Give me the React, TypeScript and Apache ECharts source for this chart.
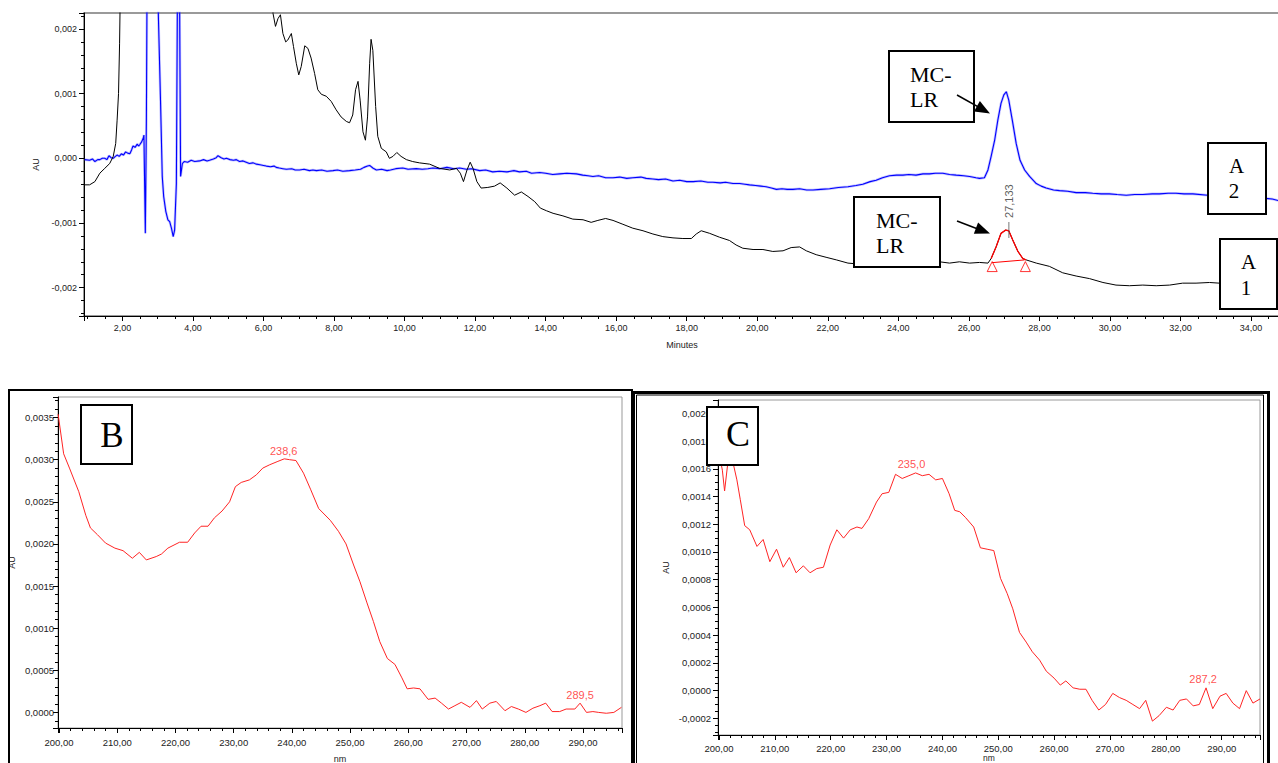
import React, { useEffect, useRef } from "react";
import * as echarts from "echarts";

// ---------- Chromatogram (A): retention time (min) vs AU ----------
const chromA2Blue: [number, number][] = [
  [0.93,-0.00002],[1.07,-0.00003],[1.15,-0.00001],[1.22,-0.00005],[1.30,-0.00002],[1.36,-0.00002],[1.43,0.0],[1.50,0.0],[1.56,-0.00002],[1.62,0.00004],[1.68,0.00001],[1.74,0.0],[1.80,0.00003],[1.85,0.00005],[1.91,0.00003],[1.97,0.00007],[2.03,0.00005],[2.09,0.0001],[2.15,0.00008],[2.21,0.00007],[2.26,0.00013],[2.30,0.00019],[2.36,0.00017],[2.42,0.00022],[2.46,0.00019],[2.49,0.00021],[2.54,0.00025],[2.59,0.00031],[2.61,0.00036],[2.65,-0.00116],[2.68,0.0006],[2.71,0.004],[2.98,0.004],[3.02,0.0022],[3.08,0.0009],[3.13,-0.00028],[3.17,-0.00059],[3.23,-0.00082],[3.29,-0.00095],[3.34,-0.00098],[3.39,-0.00108],[3.44,-0.00121],[3.48,-0.00111],[3.53,-0.00039],[3.57,0.0035],[3.61,0.0035],[3.65,-0.00028],[3.70,-0.00008],[3.75,-0.00005],[3.85,-0.00006],[3.95,-0.00003],[4.05,-0.00005],[4.19,-0.00004],[4.3,-0.00002],[4.4,-0.00004],[4.47,-0.00003],[4.58,-0.00001],[4.66,0.00001],[4.71,0.00004],[4.8,0.00001],[4.88,-0.00001],[4.95,0.0],[5.05,-0.00002],[5.15,-0.00003],[5.23,-0.00002],[5.32,-0.00005],[5.42,-0.00004],[5.51,-0.00006],[5.6,-0.00008],[5.7,-0.00007],[5.8,-0.00009],[5.9,-0.0001],[6.0,-0.00011],[6.08,-0.00012],[6.2,-0.00013],[6.3,-0.00012],[6.36,-0.00014],[6.45,-0.00015],[6.55,-0.00016],[6.65,-0.00017],[6.8,-0.00016],[6.9,-0.00018],[7.02,-0.00018],[7.15,-0.00017],[7.3,-0.00019],[7.4,-0.00018],[7.5,-0.00019],[7.65,-0.00018],[7.8,-0.0002],[7.97,-0.00019],[8.1,-0.00018],[8.25,-0.0002],[8.44,-0.00019],[8.6,-0.00018],[8.75,-0.00017],[8.85,-0.00014],[8.95,-0.00012],[9.01,-0.00011],[9.1,-0.00015],[9.2,-0.00018],[9.35,-0.00017],[9.5,-0.00019],[9.6,-0.00018],[9.75,-0.00016],[9.95,-0.00015],[10.1,-0.00017],[10.33,-0.00016],[10.5,-0.00017],[10.66,-0.00016],[10.8,-0.00015],[11.0,-0.00016],[11.2,-0.00014],[11.4,-0.00016],[11.56,-0.00015],[11.75,-0.00017],[11.9,-0.00016],[12.13,-0.00019],[12.3,-0.00018],[12.5,-0.00021],[12.69,-0.0002],[12.9,-0.00021],[13.1,-0.00019],[13.26,-0.00021],[13.45,-0.0002],[13.6,-0.00023],[13.83,-0.00022],[14.0,-0.00023],[14.2,-0.00025],[14.4,-0.00024],[14.6,-0.00023],[14.87,-0.00024],[15.05,-0.00026],[15.2,-0.00027],[15.34,-0.00028],[15.5,-0.00027],[15.7,-0.0003],[15.91,-0.0003],[16.1,-0.00029],[16.3,-0.00031],[16.47,-0.0003],[16.7,-0.00029],[16.85,-0.00031],[17.04,-0.00032],[17.2,-0.00033],[17.4,-0.00032],[17.61,-0.00035],[17.8,-0.00034],[18.0,-0.00036],[18.18,-0.00036],[18.4,-0.00035],[18.6,-0.00037],[18.74,-0.00037],[18.95,-0.00038],[19.1,-0.00037],[19.31,-0.00039],[19.5,-0.00039],[19.65,-0.0004],[19.78,-0.00041],[19.95,-0.00042],[20.1,-0.00043],[20.25,-0.00044],[20.4,-0.00046],[20.54,-0.00048],[20.7,-0.00047],[20.85,-0.00048],[21.01,-0.00048],[21.2,-0.00047],[21.4,-0.00049],[21.58,-0.00049],[21.8,-0.00048],[22.05,-0.00047],[22.3,-0.00045],[22.57,-0.00044],[22.8,-0.00042],[22.99,-0.0004],[23.2,-0.00036],[23.37,-0.00034],[23.55,-0.0003],[23.75,-0.00027],[23.95,-0.00026],[24.13,-0.00026],[24.3,-0.00025],[24.5,-0.00026],[24.7,-0.00024],[24.88,-0.00024],[25.05,-0.00023],[25.26,-0.00023],[25.45,-0.00025],[25.64,-0.00026],[25.85,-0.00027],[26.02,-0.00028],[26.2,-0.0003],[26.3,-0.00031],[26.44,-0.0003],[26.54,-0.00018],[26.63,0.00003],[26.73,0.00028],[26.82,0.00059],[26.91,0.00085],[26.99,0.00098],[27.06,0.00103],[27.13,0.0009],[27.23,0.00059],[27.34,0.00023],[27.45,-0.00003],[27.58,-0.00018],[27.72,-0.00028],[27.91,-0.00039],[28.05,-0.00043],[28.19,-0.00046],[28.4,-0.00049],[28.57,-0.0005],[28.8,-0.00051],[29.04,-0.00053],[29.3,-0.00053],[29.51,-0.00054],[29.75,-0.00055],[29.98,-0.00055],[30.2,-0.00056],[30.46,-0.00057],[30.7,-0.00056],[30.93,-0.00056],[31.2,-0.00055],[31.4,-0.00055],[31.65,-0.00054],[31.87,-0.00054],[32.1,-0.00055],[32.35,-0.00055],[32.77,-0.00057],[33.57,-0.0006],[34.42,-0.00062],[34.6,-0.00063],[34.82,-0.00066]
];

const chromA1Black: [number, number][] = [
  [0.93,-0.00041],[1.07,-0.00041],[1.22,-0.00036],[1.36,-0.00023],[1.50,-0.000155],[1.64,-0.00008],[1.74,0.00003],[1.81,0.00023],[1.85,0.00059],[1.89,0.001],[1.92,0.00178],[1.95,0.003],[2.0,0.006],[6.1,0.006],[6.27,0.00224],[6.34,0.00204],[6.41,0.00216],[6.48,0.00222],[6.55,0.00193],[6.63,0.0018],[6.69,0.00183],[6.79,0.00193],[6.85,0.00173],[6.93,0.00147],[7.0,0.00129],[7.07,0.00142],[7.17,0.00174],[7.26,0.0017],[7.35,0.00155],[7.45,0.00131],[7.54,0.00106],[7.64,0.00099],[7.78,0.00096],[7.92,0.00088],[8.06,0.00075],[8.2,0.00064],[8.35,0.00057],[8.44,0.00055],[8.53,0.00067],[8.61,0.00106],[8.68,0.00119],[8.74,0.0009],[8.82,0.00041],[8.89,0.00028],[8.95,0.00064],[9.01,0.00147],[9.05,0.00184],[9.1,0.00167],[9.18,0.0008],[9.24,0.00034],[9.34,0.000155],[9.48,0.0001],[9.57,0.0],[9.67,0.00003],[9.78,0.00009],[9.9,0.00003],[10.05,-0.00002],[10.23,-0.00005],[10.42,-0.00007],[10.71,-0.00009],[10.99,-0.000155],[11.28,-0.00018],[11.47,-0.000155],[11.58,-0.00023],[11.67,-0.00036],[11.77,-0.00018],[11.86,-0.00006],[11.94,-0.000155],[12.05,-0.00036],[12.17,-0.00046],[12.36,-0.00045],[12.55,-0.00043],[12.71,-0.00038],[12.9,-0.00046],[13.12,-0.00057],[13.31,-0.00052],[13.5,-0.00059],[13.69,-0.00067],[13.85,-0.00077],[14.02,-0.00081],[14.21,-0.00085],[14.49,-0.00089],[14.77,-0.00094],[15.06,-0.00095],[15.29,-0.00099],[15.48,-0.00096],[15.7,-0.00093],[15.91,-0.00096],[16.19,-0.00102],[16.47,-0.00108],[16.76,-0.00112],[17.04,-0.00117],[17.32,-0.00121],[17.61,-0.00123],[17.89,-0.00124],[18.13,-0.00124],[18.27,-0.00117],[18.41,-0.00112],[18.65,-0.00116],[18.93,-0.00122],[19.21,-0.00127],[19.4,-0.00134],[19.59,-0.00139],[19.88,-0.00141],[20.16,-0.00141],[20.44,-0.00144],[20.73,-0.00143],[20.96,-0.00138],[21.2,-0.00137],[21.39,-0.00143],[21.67,-0.00149],[21.95,-0.00153],[22.24,-0.00157],[22.57,-0.00162],[23.0,-0.00164],[24.03,-0.00162],[25.17,-0.0016],[25.45,-0.00162],[25.73,-0.0016],[26.02,-0.00162],[26.3,-0.00161],[26.54,-0.00162],[26.63,-0.00155],[26.77,-0.00137],[26.91,-0.00116],[27.04,-0.00111],[27.13,-0.00112],[27.24,-0.00126],[27.39,-0.00144],[27.53,-0.00155],[27.62,-0.00157],[27.91,-0.00162],[28.28,-0.00167],[28.66,-0.00177],[29.04,-0.00182],[29.42,-0.00186],[29.8,-0.00192],[30.17,-0.00196],[30.55,-0.00197],[30.93,-0.00196],[31.31,-0.00197],[31.69,-0.00196],[32.06,-0.00193],[32.44,-0.00193],[32.82,-0.00192],[33.1,-0.00193],[34.0,-0.00193],[34.82,-0.00193]
];

const peakStartMin = 26.62;
const peakEndMin = 27.63;
const peakApexA1: [number, number][] = [[27.133, -0.001108]];
const peakMarkersA1: [number, number][] = [[26.66, -0.001674], [27.6, -0.001674]];
const peakBaselineA1: [number, number][] = [[26.66, -0.001613], [27.575, -0.001571]];

// ---------- UV spectra (B, C): wavelength (nm) vs AU ----------
const spectrumB: [number, number][] = [
  [199.85,0.00354],[200.8,0.00307],[201.8,0.0029],[203.4,0.00262],[204.6,0.00234],[205.4,0.00219],[206.6,0.00211],[208.0,0.00201],[209.6,0.00195],[211.0,0.00192],[212.6,0.00183],[213.8,0.0019],[215.0,0.00181],[216.7,0.00185],[217.6,0.00188],[218.7,0.00195],[220.7,0.00202],[222.1,0.00202],[223.3,0.00213],[224.4,0.00221],[225.6,0.00221],[226.7,0.00231],[228.0,0.00239],[229.3,0.0025],[230.3,0.00268],[231.3,0.00273],[232.7,0.00276],[233.9,0.00282],[235.0,0.0029],[236.2,0.00294],[237.6,0.00298],[238.7,0.00301],[239.6,0.003],[240.7,0.00299],[242.0,0.00284],[243.2,0.00265],[244.6,0.00242],[246.6,0.00228],[248.0,0.00215],[249.3,0.002],[250.6,0.00175],[251.7,0.00155],[252.9,0.0013],[254.0,0.00108],[255.1,0.00084],[256.4,0.00064],[257.7,0.00057],[258.9,0.00041],[259.8,0.00028],[260.9,0.00029],[262.0,0.00028],[263.4,0.000155],[264.6,0.00017],[265.7,0.00011],[266.9,0.00004],[268.0,0.00008],[269.1,0.00012],[270.6,0.00006],[271.7,0.00014],[272.7,0.00004],[274.0,0.00011],[275.1,0.00013],[276.6,0.00002],[277.7,0.00007],[278.9,0.00004],[280.2,0.0],[281.4,0.00005],[282.6,0.00008],[283.6,0.00011],[284.7,0.00001],[286.0,0.00001],[287.1,0.00004],[288.6,0.00004],[289.5,0.00011],[290.6,0.0],[291.7,0.00001],[292.7,0.0],[294.0,-0.00001],[295.3,0.0],[296.6,0.00006]
];
const spectrumBPeaks: [number, number][] = [[238.6, 0.003005], [289.5, 0.00011]];

const spectrumC: [number, number][] = [
  [199.85,0.00175],[200.6,0.00159],[201.0,0.00144],[201.6,0.00165],[202.2,0.0017],[203.2,0.00152],[203.8,0.00138],[204.6,0.00119],[205.5,0.00116],[206.8,0.00104],[207.9,0.00109],[209.1,0.00093],[210.3,0.00102],[211.5,0.00089],[212.6,0.00096],[213.8,0.00085],[215.1,0.0009],[216.3,0.00085],[217.5,0.00088],[218.7,0.00089],[219.9,0.00105],[221.1,0.00116],[222.3,0.0011],[223.5,0.00116],[224.7,0.00118],[225.6,0.00117],[226.8,0.00124],[228.2,0.00136],[229.2,0.00142],[230.4,0.00143],[231.6,0.00156],[232.8,0.00153],[234.0,0.00155],[235.2,0.00157],[236.4,0.00155],[237.6,0.00156],[238.8,0.00152],[240.0,0.00153],[241.2,0.00142],[242.2,0.0013],[243.1,0.00129],[244.1,0.00125],[245.6,0.00118],[246.8,0.00103],[248.0,0.00102],[249.2,0.00101],[250.4,0.00081],[251.6,0.0007],[252.6,0.00059],[253.8,0.00042],[255.0,0.00035],[256.1,0.00028],[257.4,0.00022],[258.6,0.00014],[260.0,0.00009],[261.1,0.00004],[262.1,0.00007],[263.4,0.00002],[264.6,0.00001],[265.7,0.00001],[266.8,-0.00007],[268.0,-0.00014],[269.2,-0.0001],[270.5,-0.00002],[271.7,-0.00005],[272.9,-0.00007],[274.1,-0.0001],[275.3,-0.00013],[276.4,-0.00007],[277.6,-0.00022],[278.8,-0.00018],[280.1,-0.00012],[281.3,-0.00014],[282.5,-0.00007],[283.7,-0.00006],[284.9,-0.00011],[286.0,-0.0001],[287.2,0.00002],[288.4,-0.00013],[289.7,-0.00004],[290.8,-0.00002],[292.0,-0.00009],[293.2,-0.00013],[294.4,0.0],[295.6,-0.00009],[296.86,-0.00006]
];
const spectrumCPeaks: [number, number][] = [[235.0, 0.001569], [287.2, 0.000017]];

// ---------- helpers ----------
const SANS = "'Liberation Sans', Arial, sans-serif";
const SERIF = "'Liberation Serif', 'Times New Roman', serif";

const isMultiple = (v: number, step: number) => Math.abs(v / step - Math.round(v / step)) < 1e-6;
const comma = (v: number, d: number) => {
  const x = Math.abs(v) < 1e-12 ? 0 : v;
  return x.toFixed(d).replace(".", ",");
};
const fmt = (step: number, d: number) => (v: number) => (isMultiple(v, step) ? comma(v, d) : "");

function valueAxis(opts: any) {
  return {
    type: "value",
    scale: true,
    splitLine: { show: false },
    axisLine: { show: true, onZero: false, lineStyle: { color: "#000", width: 1 } },
    axisTick: { show: true, length: 5, lineStyle: { color: "#000", width: 1 } },
    minorTick: { show: true, length: 3, splitNumber: opts.minor, lineStyle: { color: "#000", width: 1 } },
    axisLabel: { fontSize: opts.fontSize ?? 9, color: "#222", fontFamily: SANS, margin: opts.margin ?? 8, formatter: opts.formatter, hideOverlap: false },
    nameTextStyle: { fontSize: opts.nameSize ?? 9, color: "#222", fontFamily: SANS },
    nameLocation: "middle",
    ...opts.extra,
  };
}

function arrow(x1: number, y1: number, x2: number, y2: number) {
  const dx = x2 - x1, dy = y2 - y1;
  const len = Math.sqrt(dx * dx + dy * dy);
  const ux = dx / len, uy = dy / len;
  const hl = 15, hw = 6;
  const bx = x2 - ux * hl, by = y2 - uy * hl;
  return [
    { type: "line", z: 100, shape: { x1, y1, x2: bx + ux * 2, y2: by + uy * 2 }, style: { stroke: "#000", lineWidth: 1.6 } },
    { type: "polygon", z: 100, shape: { points: [[x2, y2], [bx - uy * hw, by + ux * hw], [bx + uy * hw, by - ux * hw]] }, style: { fill: "#000" } },
  ];
}

function box(x: number, y: number, w: number, h: number) {
  return { type: "rect", z: 100, shape: { x, y, width: w, height: h }, style: { fill: "#fff", stroke: "#000", lineWidth: 2 } };
}
function txt(text: string, x: number, y: number, size: number, align = "left") {
  return { type: "text", z: 101, x, y, style: { text, font: `${size}px ${SERIF}`, fill: "#000", align, verticalAlign: "middle" } };
}

export default function App() {
  const ref = useRef<HTMLDivElement>(null);
  useEffect(() => {
    const chart = echarts.init(ref.current!, undefined, { renderer: "svg" });
    const redPeak = chromA1Black.filter(([t]) => t >= peakStartMin && t <= peakEndMin);
    const option: any = {
      animation: false,
      backgroundColor: "#fff",
      grid: [
        { left: 84, top: 13, right: -2, height: 303, show: true, borderColor: "#7a7a7a", borderWidth: 1.5, containLabel: false, outerBoundsMode: "none" },
        { left: 58, top: 397, width: 564, height: 331, show: true, borderColor: "#999", borderWidth: 1, outerBoundsMode: "none" },
        { left: 718, top: 400, width: 542, height: 335, show: true, borderColor: "#999", borderWidth: 1, outerBoundsMode: "none" },
      ],
      xAxis: [
        valueAxis({ minor: 4, formatter: fmt(2, 2), margin: 7, extra: { gridIndex: 0, min: 0.911, max: 34.82, splitNumber: 17, name: "Minutes", nameGap: 24 } }),
        valueAxis({ minor: 5, fontSize: 9.5, formatter: fmt(10, 2), margin: 9, extra: { gridIndex: 1, min: 199.83, max: 296.7, splitNumber: 10, name: "nm", nameGap: 26 } }),
        valueAxis({ minor: 5, fontSize: 9.5, nameSize: 8.5, formatter: fmt(10, 2), margin: 8, extra: { gridIndex: 2, min: 199.82, max: 296.86, splitNumber: 10, name: "nm", nameGap: 18 } }),
      ],
      yAxis: [
        valueAxis({ minor: 5, formatter: fmt(0.001, 3), margin: 7, extra: { gridIndex: 0, min: -0.002438, max: 0.002247, splitNumber: 5, name: "AU", nameGap: 42, nameRotate: 90 } }),
        valueAxis({ minor: 5, fontSize: 9.5, formatter: fmt(0.0005, 4), margin: 4, extra: { gridIndex: 1, min: -0.000185, max: 0.003744, splitNumber: 8, name: "AU", nameGap: 42, nameRotate: 90 } }),
        valueAxis({ minor: 4, fontSize: 9.5, formatter: fmt(0.0002, 4), margin: 7, extra: { gridIndex: 2, min: -0.00032, max: 0.002096, splitNumber: 12, name: "AU", nameGap: 48, nameRotate: 90 } }),
      ],
      series: [
        { type: "line", xAxisIndex: 0, yAxisIndex: 0, data: chromA2Blue, showSymbol: false, symbol: "none", clip: true, z: 1, lineStyle: { color: "rgba(90,90,255,0.35)", width: 2.6 }, silent: true },
        { type: "line", xAxisIndex: 0, yAxisIndex: 0, data: chromA2Blue, showSymbol: false, symbol: "none", clip: true, z: 2, lineStyle: { color: "#0000ff", width: 1.1 }, silent: true },
        { type: "line", xAxisIndex: 0, yAxisIndex: 0, data: chromA1Black, showSymbol: false, symbol: "none", clip: true, z: 3, lineStyle: { color: "#000", width: 1 }, silent: true },
        { type: "line", xAxisIndex: 0, yAxisIndex: 0, data: redPeak, showSymbol: false, symbol: "none", clip: true, z: 4, lineStyle: { color: "#ff0000", width: 1.3 }, silent: true },
        { type: "line", xAxisIndex: 0, yAxisIndex: 0, data: peakBaselineA1, showSymbol: false, symbol: "none", z: 4, lineStyle: { color: "#ff0000", width: 1 }, silent: true },
        { type: "scatter", xAxisIndex: 0, yAxisIndex: 0, data: peakMarkersA1, symbol: "triangle", symbolSize: 10, z: 5, itemStyle: { color: "rgba(255,255,255,0)", borderColor: "#ff0000", borderWidth: 1 }, silent: true },
        {
          type: "scatter", xAxisIndex: 0, yAxisIndex: 0, data: peakApexA1, symbol: "rect", symbolSize: [1, 16], z: 5,
          itemStyle: { color: "#555" }, silent: true,
          label: { show: true, formatter: "27,133", position: "top", distance: 3, rotate: 90, align: "left", verticalAlign: "middle", offset: [1, 0], fontSize: 11, color: "#333", fontFamily: SANS },
        },
        { type: "line", xAxisIndex: 1, yAxisIndex: 1, data: spectrumB, showSymbol: false, symbol: "none", clip: true, z: 3, lineStyle: { color: "#ff2424", width: 1 }, silent: true },
        {
          type: "scatter", xAxisIndex: 1, yAxisIndex: 1, data: spectrumBPeaks, symbolSize: 1, z: 4, itemStyle: { color: "rgba(0,0,0,0)" }, silent: true,
          label: { show: true, position: "top", distance: 2, fontSize: 11, color: "#ff2424", fontFamily: SANS, formatter: (p: any) => comma(p.value[0], 1) },
        },
        { type: "line", xAxisIndex: 2, yAxisIndex: 2, data: spectrumC, showSymbol: false, symbol: "none", clip: true, z: 3, lineStyle: { color: "#ff2424", width: 1 }, silent: true },
        {
          type: "scatter", xAxisIndex: 2, yAxisIndex: 2, data: spectrumCPeaks, symbolSize: 1, z: 4, itemStyle: { color: "rgba(0,0,0,0)" }, silent: true,
          label: { show: true, position: "top", distance: 3, offset: [-3, 0], fontSize: 11, color: "#ff2424", fontFamily: SANS, formatter: (p: any) => comma(p.value[0], 1) },
        },
      ],
      graphic: [
        // panel frames
        { type: "rect", z: 100, shape: { x: 9, y: 390, width: 623, height: 420 }, style: { fill: "transparent", stroke: "#000", lineWidth: 2 } },
        { type: "rect", z: 100, shape: { x: 633.5, y: 392.5, width: 635, height: 420 }, style: { fill: "transparent", stroke: "#000", lineWidth: 3 } },
        { type: "rect", z: 100, shape: { x: 636.5, y: 395, width: 627, height: 420 }, style: { fill: "transparent", stroke: "#000", lineWidth: 1 } },
        // A annotations
        box(889, 51, 85, 71), txt("MC-", 910, 74, 22), txt("LR", 910, 99, 22),
        ...arrow(957, 95, 990, 113.5),
        box(854, 197, 86, 70), txt("MC-", 876, 220, 22), txt("LR", 876, 245, 22),
        ...arrow(957, 221, 990, 233.5),
        box(1208, 143, 58, 71), txt("A", 1236.5, 166, 21, "center"), txt("2", 1234, 191, 21, "center"),
        box(1220, 239, 57, 70), txt("A", 1248.5, 262, 21, "center"), txt("1", 1246, 287.5, 21, "center"),
        // B, C labels
        box(81, 405, 51, 59), txt("B", 112, 435, 35, "center"),
        box(707, 407, 51, 58), txt("C", 738, 434, 36, "center"),
      ],
    };
    chart.setOption(option);
    return () => chart.dispose();
  }, []);
  return <div ref={ref} style={{ position: "absolute", left: 0, top: 0, width: 1278, height: 763, background: "#fff" }} />;
}
